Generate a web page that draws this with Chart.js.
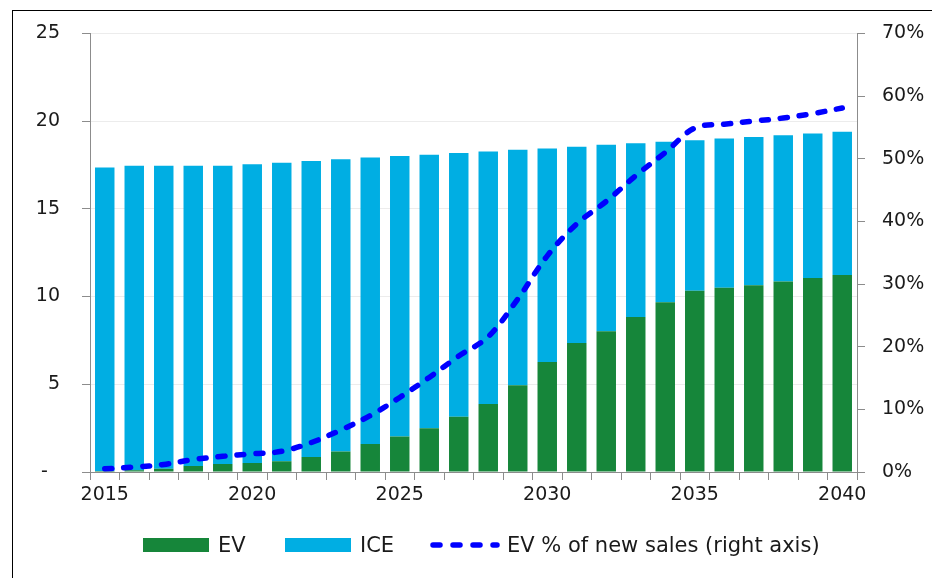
<!DOCTYPE html>
<html>
<head>
<meta charset="utf-8">
<script src="https://cdn.jsdelivr.net/npm/chart.js@4"></script>
<style>
    body { margin: 0; background: #fff; font-family: "DejaVu Sans", sans-serif; }
    #wrap { position: relative; width: 932px; height: 578px; overflow: hidden; }
    #frame { position: absolute; left: 12px; top: 10px; width: 940px; height: 600px;
             border-left: 1px solid #000; border-top: 1px solid #000; }
    #chart { position: absolute; left: 0; top: 0; }
    .leg { position: absolute; top: 533px; height: 24px; display: flex; align-items: center;
           font-size: 21px; color: #1a1a1a; white-space: nowrap; }
    .leg .box { width: 66px; height: 14px; margin-right: 9px; }
    .leg svg { margin-right: 7px; }
</style>
</head>
<body>
<div id="wrap">
    <div id="frame"></div>
    <canvas id="chart" width="932" height="578"></canvas>
    <div class="leg" style="left:143px"><div class="box" style="background:#16863a"></div>EV</div>
    <div class="leg" style="left:285px"><div class="box" style="background:#00aee3"></div>ICE</div>
    <div class="leg" style="left:430px">
        <svg width="70" height="10"><line x1="3" y1="5" x2="67" y2="5" stroke="#0000ff" stroke-width="5.5"
            stroke-linecap="round" stroke-dasharray="7 13"/></svg>EV % of new sales (right axis)
    </div>
</div>
<script>
// Años
const years = ['2015', '2016', '2017', '2018', '2019', '2020', '2021', '2022', '2023', '2024', '2025', '2026', '2027',
    '2028', '2029', '2030', '2031', '2032', '2033', '2034', '2035', '2036', '2037', '2038', '2039', '2040'];
const shownYears = ['2015', '2020', '2025', '2030', '2035', '2040'];

// Ventas (eje izquierdo)
const evSales = [0.05, 0.1, 0.19, 0.34, 0.45, 0.51, 0.61, 0.85, 1.17, 1.59, 2.02, 2.49, 3.15,
    3.87, 4.95, 6.27, 7.36, 8.02, 8.83, 9.68, 10.33, 10.5, 10.65, 10.86, 11.06, 11.23];
const iceSales = [17.31, 17.36, 17.27, 17.12, 17.01, 17.03, 17.02, 16.87, 16.65, 16.33, 15.99, 15.59, 15.03,
    14.4, 13.42, 12.17, 11.18, 10.63, 9.91, 9.14, 8.58, 8.51, 8.45, 8.34, 8.23, 8.16];

// % de ventas nuevas (eje derecho)
const evShare = [0.5, 0.8, 1.2, 2.0, 2.5, 2.9, 3.3, 4.7, 6.7, 9.0, 11.9, 15.1, 18.5,
    21.6, 27.6, 34.5, 39.6, 43.2, 47.3, 51.0, 54.9, 55.5, 56.0, 56.5, 57.2, 58.1];

const textColor = '#1a1a1a';
const axisColor = '#8c8c8c';

new Chart(document.getElementById('chart'), {
    type: 'bar',
    data: {
        labels: years,
        datasets: [
            { label: 'EV', data: evSales, backgroundColor: '#16863a', order: 1 },
            { label: 'ICE', data: iceSales, backgroundColor: '#00aee3', order: 1 },
            {
                type: 'line',
                label: 'EV % of new sales (right axis)',
                data: evShare,
                yAxisID: 'y1',
                borderColor: '#0000ff',
                borderWidth: 5.5,
                borderDash: [7, 12],
                borderCapStyle: 'round',
                pointRadius: 0,
                tension: 0.35,
                order: 0
            }
        ]
    },
    options: {
        responsive: false,
        animation: false,
        datasets: { bar: { categoryPercentage: 1, barPercentage: 0.66 } },
        layout: { padding: { top: 30, left: 0, right: 0, bottom: 66 } },
        plugins: { legend: { display: false }, tooltip: { enabled: false } },
        scales: {
            x: {
                stacked: true,
                afterFit: s => { s.height = 40; },
                grid: { drawOnChartArea: false, tickColor: axisColor, tickLength: 8, offset: true },
                border: { color: axisColor },
                ticks: {
                    autoSkip: false, maxRotation: 0, padding: 4, color: textColor,
                    font: { family: 'DejaVu Sans', size: 19 },
                    callback: function(v) {
                        const y = this.getLabelForValue(v);
                        return shownYears.includes(y) ? y : '';
                    }
                }
            },
            y: {
                stacked: true,
                min: 0, max: 25,
                afterFit: s => { s.width = 90; },
                grid: { color: '#ececec', tickColor: axisColor, tickLength: 8 },
                border: { color: axisColor },
                ticks: {
                    stepSize: 5, padding: 22, color: textColor,
                    font: { family: 'DejaVu Sans', size: 19 },
                    callback: v => v === 0 ? '-  ' : v
                }
            },
            y1: {
                position: 'right',
                min: 0, max: 70,
                afterFit: s => { s.width = 75; },
                grid: { drawOnChartArea: false, tickColor: axisColor, tickLength: 8 },
                border: { color: axisColor },
                ticks: {
                    stepSize: 10, padding: 17, color: textColor,
                    font: { family: 'DejaVu Sans', size: 19 },
                    callback: v => v + '%'
                }
            }
        }
    }
});
</script>
</body>
</html>
